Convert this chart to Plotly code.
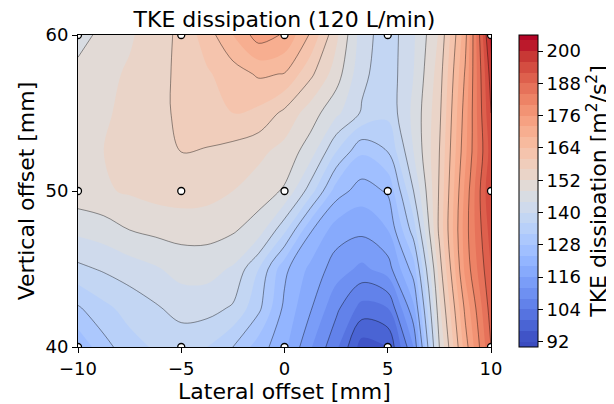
import plotly.graph_objects as go

# ---- data ----
x_mm = [-10, -8.75, -7.5, -6.25, -5, -3.75, -2.5, -1.25, 0,
        1.25, 2.5, 3.75, 5, 6.25, 7.5, 8.75, 10]
y_mm = [40, 42.5, 45, 47.5, 50, 52.5, 55, 57.5, 60]

tke_y40   = [125, 130.5, 134.5, 136.5, 137.5, 136, 132, 126, 121, 112.5, 105, 94, 96, 112, 148, 170, 188]
tke_y42_5 = [131.5, 135, 137.5, 139.5, 141.5, 141.5, 139.5, 133, 123, 116.5, 109, 102.5, 104, 119, 151, 173, 190]
tke_y45   = [139, 140.5, 142, 143.5, 145.5, 145.5, 143.5, 136, 125, 119, 114, 111, 114, 126, 154, 177, 192]
tke_y47_5 = [145, 146, 148, 149, 149.5, 149.5, 148.5, 146, 137, 124.5, 118, 117, 120, 134, 157, 178, 194]
tke_y50   = [150.5, 151.5, 152.5, 153.5, 154, 153.5, 152, 150, 147.5, 138, 126, 122, 124.5, 140, 156.5, 177, 196]
tke_y52_5 = [150.5, 152, 153.5, 155, 156, 155.5, 154.5, 153, 150.5, 146, 136, 128.5, 132, 144, 156, 175, 194]
tke_y55   = [150, 151.5, 153, 154.5, 157, 159.5, 160, 159, 155, 150, 145, 139.5, 137, 145, 155, 174, 196]
tke_y57_5 = [149.5, 151, 152.5, 154.5, 157, 159.5, 162, 164.6, 163.8, 157, 150, 141, 137.5, 144, 154, 172.5, 198]
tke_y60   = [146, 149.5, 151.5, 154, 157, 162, 168, 174, 171.5, 163.5, 153, 142, 137.5, 143.5, 152.5, 170.5, 202]

meas_x = [-10, -5, 0, 5, 10] * 3
meas_y = [40] * 5 + [50] * 5 + [60] * 5

cbar_ticks = [92, 104, 116, 128, 140, 152, 164, 176, 188, 200]

z = [tke_y40, tke_y42_5, tke_y45, tke_y47_5, tke_y50,
     tke_y52_5, tke_y55, tke_y57_5, tke_y60]

# ---- matplotlib coolwarm, remapped so plotly band colours equal mpl contourf ----
coolwarm = [
    (59, 76, 192), (68, 90, 204), (77, 104, 215), (87, 117, 225), (98, 130, 234),
    (108, 142, 241), (119, 154, 247), (130, 165, 251), (141, 176, 254), (152, 185, 255),
    (163, 194, 255), (174, 201, 253), (184, 208, 249), (194, 213, 244), (204, 217, 238),
    (213, 219, 230), (221, 221, 221), (229, 216, 209), (236, 211, 197), (241, 204, 185),
    (245, 196, 173), (247, 187, 160), (247, 177, 148), (247, 166, 135), (244, 154, 123),
    (241, 141, 111), (236, 127, 99), (229, 112, 88), (222, 96, 77), (213, 80, 66),
    (203, 62, 56), (192, 40, 47), (180, 4, 38)]
lev_start, lev_end, lev_step = 92, 204, 4
n_lev = int((lev_end - lev_start) / lev_step) + 1
dom_lo = lev_start - lev_step / 2
dom_hi = lev_start + (n_lev - 0.5) * lev_step
cscale = [[0.0, 'rgb(59,76,192)']]
for i, c in enumerate(coolwarm):
    t = i / (len(coolwarm) - 1)
    v = lev_start + t * (lev_end - lev_start)
    p = (v - dom_lo) / (dom_hi - dom_lo)
    cscale.append([p, 'rgb(%d,%d,%d)' % c])
cscale.append([1.0, 'rgb(180,4,38)'])

FONT = 'DejaVu Sans'
TICK = 18
LAB = 22
SM = 1.0

fig = go.Figure()
fig.add_trace(go.Contour(
    x=x_mm, y=y_mm, z=z,
    colorscale=cscale,
    autocontour=False,
    contours=dict(start=lev_start, end=lev_end, size=lev_step, coloring='fill', showlines=False),
    line=dict(width=0, smoothing=SM),
    zmin=dom_lo, zmax=dom_hi,
    colorbar=dict(
        x=1.068, xanchor='left', xpad=0, ypad=0, y=0.5, yanchor='middle', len=1, lenmode='fraction',
        thickness=19, outlinewidth=1, outlinecolor='black',
        ticks='outside', ticklen=5, tickcolor='black', tickvals=cbar_ticks,
        tickfont=dict(family=FONT, size=TICK, color='black'),
        title=dict(text='TKE dissipation [m<sup>2</sup>/s<sup>2</sup>]', side='right',
                   font=dict(family=FONT, size=LAB, color='black')),
    ),
    hoverinfo='skip',
))
fig.add_trace(go.Contour(
    x=x_mm, y=y_mm, z=z,
    autocontour=False,
    contours=dict(start=100, end=196, size=8, coloring='none', showlines=True),
    line=dict(width=0.9, color='rgba(0,0,0,0.45)', smoothing=SM),
    showscale=False, hoverinfo='skip',
))
fig.add_trace(go.Scatter(
    x=meas_x, y=meas_y, mode='markers',
    marker=dict(size=7, color='white', line=dict(color='black', width=1.3)),
    showlegend=False, hoverinfo='skip', cliponaxis=True,
))

axis_common = dict(showline=True, linecolor='black', linewidth=1, mirror=True,
                   ticks='outside', ticklen=5, tickcolor='black', showgrid=False,
                   zeroline=False, tickfont=dict(family=FONT, size=TICK, color='black'))
fig.update_layout(
    width=606, height=396,
    margin=dict(l=70, r=123, t=27, b=57, autoexpand=False),
    paper_bgcolor='white', plot_bgcolor='white',
    showlegend=False,
    title=dict(text='TKE dissipation (120 L/min)', x=0.5, xref='paper', xanchor='center',
               y=1 - 11 / 396, yref='container', yanchor='middle',
               font=dict(family=FONT, size=LAB, color='black')),
    xaxis=dict(range=[-10, 10], tickvals=[-10, -5, 0, 5, 10],
               title=dict(text='Lateral offset [mm]', font=dict(family=FONT, size=LAB, color='black'),
                          standoff=0), **axis_common),
    yaxis=dict(range=[40, 60], tickvals=[40, 50, 60],
               title=dict(text='Vertical offset [mm]', font=dict(family=FONT, size=LAB, color='black'),
                          standoff=4), **axis_common),
)
fig.write_html('out.html')
